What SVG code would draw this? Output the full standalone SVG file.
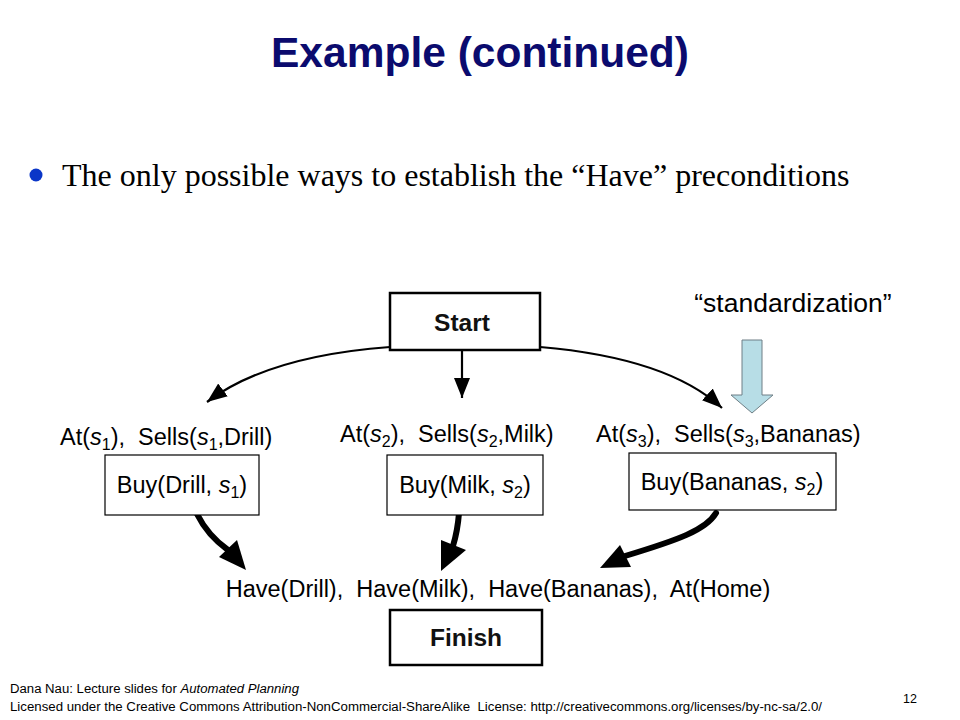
<svg xmlns="http://www.w3.org/2000/svg" width="960" height="720" viewBox="0 0 960 720">
<defs>
<style>
.sans{font-family:"Liberation Sans",Arial,sans-serif;}
.lbl{font-family:"Liberation Sans",Arial,sans-serif;font-size:23.5px;fill:#000;white-space:pre;}
.box{fill:#fff;stroke:#000;stroke-width:1.2;}
.pbox{fill:#fff;stroke:#000;stroke-width:2.5;}
.pt{font-family:"Liberation Sans",Arial,sans-serif;font-size:24.5px;font-weight:bold;fill:#111;text-anchor:middle;}
.thin{fill:none;stroke:#000;stroke-width:2.2;}
.thick{fill:none;stroke:#000;stroke-width:6;stroke-linecap:round;}
.it{font-style:italic;}
.sub{font-size:16px;}
</style>
<marker id="ah" markerUnits="userSpaceOnUse" markerWidth="22" markerHeight="16" refX="20" refY="8" orient="auto">
<path d="M0,0 L20,8 L0,16 z" fill="#000"/>
</marker>
</defs>
<rect width="960" height="720" fill="#fff"/>
<text x="480" y="67" text-anchor="middle" class="sans" font-size="42.5" font-weight="bold" fill="#0b0b6e">Example (continued)</text>
<circle cx="36" cy="175" r="6.5" fill="#0a36c8"/>
<text x="62" y="186" font-family="Liberation Serif,'Times New Roman',serif" font-size="32" fill="#000">The only possible ways to establish the “Have” preconditions</text>
<text x="793" y="312" text-anchor="middle" class="sans" font-size="26.5" fill="#000">“standardization”</text>
<polygon points="742,340 762,340 762,395 773,395 752,413 731,395 742,395" fill="#b7dde6" stroke="#6f7f86" stroke-width="1"/>
<g id="connectors">
<path class="thin" d="M390,347 Q268,356 207,402" marker-end="url(#ah)"/>
<path class="thin" d="M462,350 L462,398" marker-end="url(#ah)"/>
<path class="thin" d="M540,347 Q668,358 722,408" marker-end="url(#ah)"/>
<path class="thick" d="M197,514 C204,528 214,540 228,550"/>
<polygon points="246,570 219,557 237,540" fill="#000"/>
<path class="thick" d="M459,513 C458,526 456,536 453,546"/>
<polygon points="441,571 441,540 466,550" fill="#000"/>
<path class="thick" d="M716,513 C706,530 678,540 625,556"/>
<polygon points="600,568 620,545 631,567" fill="#000"/>
</g>
<g id="start">
<rect class="pbox" x="390" y="293" width="150" height="57"/>
<text class="pt" x="462" y="331">Start</text>
</g>
<g id="buy-drill">
<text class="lbl" x="60" y="445">At(<tspan class="it">s</tspan><tspan class="sub" dy="5">1</tspan><tspan dy="-5">),  Sells(</tspan><tspan class="it">s</tspan><tspan class="sub" dy="5">1</tspan><tspan dy="-5">,Drill)</tspan></text>
<rect class="box" x="105" y="455" width="154" height="60"/>
<text class="lbl" x="182" y="493" text-anchor="middle">Buy(Drill, <tspan class="it">s</tspan><tspan class="sub" dy="5">1</tspan><tspan dy="-5">)</tspan></text>
</g>
<g id="buy-milk">
<text class="lbl" x="340" y="442">At(<tspan class="it">s</tspan><tspan class="sub" dy="5">2</tspan><tspan dy="-5">),  Sells(</tspan><tspan class="it">s</tspan><tspan class="sub" dy="5">2</tspan><tspan dy="-5">,Milk)</tspan></text>
<rect class="box" x="387" y="455" width="156" height="60"/>
<text class="lbl" x="465" y="493" text-anchor="middle">Buy(Milk, <tspan class="it">s</tspan><tspan class="sub" dy="5">2</tspan><tspan dy="-5">)</tspan></text>
</g>
<g id="buy-bananas">
<text class="lbl" x="596" y="442">At(<tspan class="it">s</tspan><tspan class="sub" dy="5">3</tspan><tspan dy="-5">),  Sells(</tspan><tspan class="it">s</tspan><tspan class="sub" dy="5">3</tspan><tspan dy="-5">,Bananas)</tspan></text>
<rect class="box" x="629" y="453" width="207" height="57"/>
<text class="lbl" x="732" y="490" text-anchor="middle">Buy(Bananas, <tspan class="it">s</tspan><tspan class="sub" dy="5">2</tspan><tspan dy="-5">)</tspan></text>
</g>
<g id="finish">
<text class="lbl" x="498" y="597" text-anchor="middle">Have(Drill),  Have(Milk),  Have(Bananas),  At(Home)</text>
<rect class="pbox" x="390" y="610" width="152" height="55"/>
<text class="pt" x="466" y="646">Finish</text>
</g>
<text x="10" y="693" class="sans" font-size="12.5" fill="#000" textLength="289" lengthAdjust="spacingAndGlyphs">Dana Nau: Lecture slides for <tspan font-style="italic">Automated Planning</tspan></text>
<text x="10" y="711" class="sans" font-size="12.5" fill="#000" textLength="812" lengthAdjust="spacingAndGlyphs" style="white-space:pre">Licensed under the Creative Commons Attribution-NonCommercial-ShareAlike  License: http://creativecommons.org/licenses/by-nc-sa/2.0/</text>
<text x="910" y="703" text-anchor="middle" class="sans" font-size="12.5" fill="#000">12</text>
</svg>
